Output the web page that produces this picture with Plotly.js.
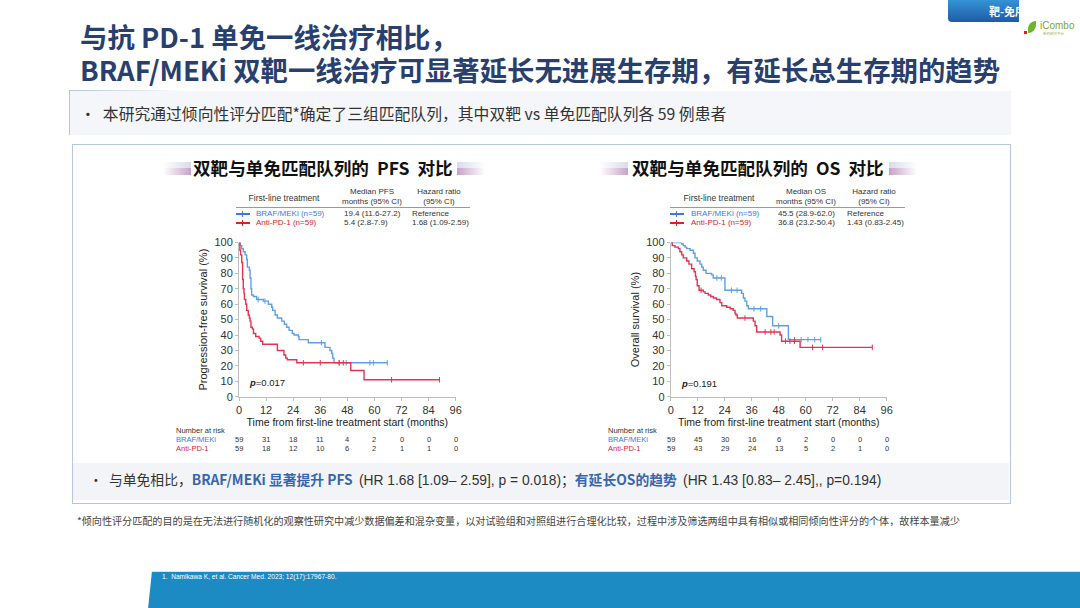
<!DOCTYPE html>
<html><head><meta charset="utf-8">
<script src="https://cdn.plot.ly/plotly-3.0.1.min.js"></script>
<style>
html,body{margin:0;padding:0;background:#fff;}
#page{position:relative;width:1080px;height:608px;overflow:hidden;background:#fff;font-family:"Noto Sans CJK SC","Liberation Sans",sans-serif;}
.abs{position:absolute;white-space:nowrap;}
.t{position:absolute;white-space:nowrap;line-height:1;transform:translateY(-50%);}
.c{transform:translate(-50%,-50%);}
.lat{font-family:"Liberation Sans",Arial,sans-serif;}
#plot{position:absolute;left:0;top:0;width:1080px;height:608px;z-index:2;}
</style></head>
<body><div id="page">
<!-- top right button and logo -->
<div class="abs" style="left:948px;top:0;width:132px;height:22px;background:linear-gradient(#3593d6,#1f5aa6);border-bottom-left-radius:4px;"></div>
<div class="t" style="left:989px;top:11px;color:#fff;font-size:11px;font-weight:bold;">靶-免序</div>
<div class="abs" style="left:1019px;top:0;width:61px;height:22px;background:#fff;"></div>
<div class="abs" style="left:1028px;top:21px;width:8px;height:12px;background:#6cb52d;border-radius:8px 0 8px 0;"></div>
<div class="abs" style="left:1024px;top:31px;width:3px;height:3px;background:#e02020;"></div>
<div class="t lat" style="left:1040px;top:26px;color:#7aa640;font-size:10px;">iCombo</div>
<div class="t" style="left:1043px;top:34px;color:#9ab870;font-size:3.5px;">新药研究平台</div>

<!-- title -->
<div class="abs" style="left:80px;top:20px;color:#29406e;font-size:27.4px;font-weight:bold;line-height:33px;">与抗 PD-1 单免一线治疗相比，<br>BRAF/MEKi 双靶一线治疗可显著延长无进展生存期，有延长总生存期的趋势</div>

<!-- bullet box -->
<div class="abs" style="left:69px;top:91px;width:941px;height:44px;background:#f4f6fa;border-left:1px solid #b7c3da;"></div>
<div class="abs" style="left:69px;top:90px;width:120px;height:1px;background:linear-gradient(90deg,#b7c3da,rgba(183,195,218,0));"></div>
<div class="t" style="left:80px;top:114px;color:#333;font-size:15.8px;">•&nbsp;&nbsp;本研究通过倾向性评分匹配*确定了三组匹配队列，其中双靶 vs 单免匹配队列各 59 例患者</div>

<!-- main box -->
<div class="abs" style="left:72px;top:144px;width:937px;height:358px;border:1px solid #b9c5dc;background:#fff;"></div>
<div class="abs" style="left:73px;top:463px;width:936px;height:37px;background:#f3f4f8;"></div>

<!-- section headers -->
<div class="abs" style="left:163px;top:162px;width:28px;height:6px;background:linear-gradient(90deg,rgba(220,224,236,0),#d8dcea);"></div>
<div class="abs" style="left:163px;top:168px;width:28px;height:7px;background:linear-gradient(90deg,rgba(205,170,205,0),#c8a2c8);"></div>
<div class="abs" style="left:457px;top:162px;width:28px;height:6px;background:linear-gradient(90deg,#d8dcea,rgba(220,224,236,0));"></div>
<div class="abs" style="left:457px;top:168px;width:28px;height:7px;background:linear-gradient(90deg,#c8a2c8,rgba(205,170,205,0));"></div>
<div class="t" style="left:193px;top:168px;color:#111;font-size:17.6px;font-weight:bold;">双靶与单免匹配队列的&nbsp; PFS&nbsp; 对比</div>

<div class="abs" style="left:600px;top:162px;width:28px;height:6px;background:linear-gradient(90deg,rgba(220,224,236,0),#d8dcea);"></div>
<div class="abs" style="left:600px;top:168px;width:28px;height:7px;background:linear-gradient(90deg,rgba(205,170,205,0),#c8a2c8);"></div>
<div class="abs" style="left:889px;top:162px;width:28px;height:6px;background:linear-gradient(90deg,#d8dcea,rgba(220,224,236,0));"></div>
<div class="abs" style="left:889px;top:168px;width:28px;height:7px;background:linear-gradient(90deg,#c8a2c8,rgba(205,170,205,0));"></div>
<div class="t" style="left:632px;top:168px;color:#111;font-size:17.6px;font-weight:bold;">双靶与单免匹配队列的&nbsp; OS&nbsp; 对比</div>

<!-- PFS table -->
<div class="t lat c" style="left:284px;top:198px;color:#333;font-size:8.5px;">First-line treatment</div>
<div class="t lat c" style="left:372px;top:192px;color:#333;font-size:8px;">Median PFS</div>
<div class="t lat c" style="left:372px;top:202px;color:#333;font-size:8px;">months (95% CI)</div>
<div class="t lat c" style="left:439px;top:192px;color:#333;font-size:8px;">Hazard ratio</div>
<div class="t lat c" style="left:439px;top:202px;color:#333;font-size:8px;">(95% CI)</div>
<div class="abs" style="left:236px;top:207px;width:234px;height:1px;background:#9a9a9a;"></div>
<div class="abs" style="left:236px;top:213px;width:14px;height:2px;background:#3b7be0;"></div>
<div class="abs" style="left:242px;top:211px;width:1px;height:6px;background:#3b7be0;"></div>
<div class="abs" style="left:236px;top:222px;width:14px;height:2px;background:#d8232e;"></div>
<div class="abs" style="left:242px;top:220px;width:1px;height:6px;background:#d8232e;"></div>
<div class="t lat" style="left:256px;top:214px;color:#3b7be0;font-size:8px;">BRAF/MEKi (n=59)</div>
<div class="t lat" style="left:256px;top:223px;color:#d8232e;font-size:8px;">Anti-PD-1 (n=59)</div>
<div class="t lat" style="left:344px;top:214px;color:#333;font-size:8px;">19.4 (11.6-27.2)</div>
<div class="t lat" style="left:344px;top:223px;color:#333;font-size:8px;">5.4 (2.8-7.9)</div>
<div class="t lat" style="left:412px;top:214px;color:#333;font-size:8px;">Reference</div>
<div class="t lat" style="left:412px;top:223px;color:#333;font-size:8px;">1.68 (1.09-2.59)</div>

<!-- OS table -->
<div class="t lat c" style="left:719px;top:198px;color:#333;font-size:8.5px;">First-line treatment</div>
<div class="t lat c" style="left:806px;top:192px;color:#333;font-size:8px;">Median OS</div>
<div class="t lat c" style="left:806px;top:202px;color:#333;font-size:8px;">months (95% CI)</div>
<div class="t lat c" style="left:874px;top:192px;color:#333;font-size:8px;">Hazard ratio</div>
<div class="t lat c" style="left:874px;top:202px;color:#333;font-size:8px;">(95% CI)</div>
<div class="abs" style="left:670px;top:207px;width:235px;height:1px;background:#9a9a9a;"></div>
<div class="abs" style="left:670px;top:213px;width:14px;height:2px;background:#3b7be0;"></div>
<div class="abs" style="left:676px;top:211px;width:1px;height:6px;background:#3b7be0;"></div>
<div class="abs" style="left:670px;top:222px;width:14px;height:2px;background:#d8232e;"></div>
<div class="abs" style="left:676px;top:220px;width:1px;height:6px;background:#d8232e;"></div>
<div class="t lat" style="left:691px;top:214px;color:#3b7be0;font-size:8px;">BRAF/MEKi (n=59)</div>
<div class="t lat" style="left:691px;top:223px;color:#d8232e;font-size:8px;">Anti-PD-1 (n=59)</div>
<div class="t lat" style="left:778px;top:214px;color:#333;font-size:8px;">45.5 (28.9-62.0)</div>
<div class="t lat" style="left:778px;top:223px;color:#333;font-size:8px;">36.8 (23.2-50.4)</div>
<div class="t lat" style="left:847px;top:214px;color:#333;font-size:8px;">Reference</div>
<div class="t lat" style="left:847px;top:223px;color:#333;font-size:8px;">1.43 (0.83-2.45)</div>

<!-- bottom bullet -->
<div class="t" style="left:89px;top:480px;color:#333;font-size:13.8px;">•&nbsp; 与单免相比，<span style="color:#3866ad;font-weight:bold;">BRAF/MEKi 显著提升 PFS</span>&nbsp;&nbsp;<span class="lat">(HR 1.68 [1.09– 2.59], p = 0.018)</span>；<span style="color:#3866ad;font-weight:bold;">有延长OS的趋势</span>&nbsp;&nbsp;<span class="lat">(HR 1.43 [0.83– 2.45],, p=0.194)</span></div>

<!-- footnote -->
<div class="t" style="left:77px;top:521px;color:#444;font-size:10.1px;">*倾向性评分匹配的目的是在无法进行随机化的观察性研究中减少数据偏差和混杂变量，以对试验组和对照组进行合理化比较，过程中涉及筛选两组中具有相似或相同倾向性评分的个体，故样本量减少</div>

<!-- bottom band -->
<div class="abs" style="left:148px;top:571px;width:932px;height:37px;background:#1c8ac3;clip-path:polygon(4px 0,100% 0,100% 100%,0 100%);border-top:1px solid #cfe3f0;"></div>
<div class="t lat" style="left:162px;top:577px;color:#fff;font-size:6.6px;">1.&nbsp;&nbsp;Namikawa K, et al. Cancer Med. 2023; 12(17):17967-80.</div>

<div id="plot"></div>
</div>
<script>
// ---- data ----
const monthTicks = [0, 12, 24, 36, 48, 60, 72, 84, 96];
const survTicks = [0, 10, 20, 30, 40, 50, 60, 70, 80, 90, 100];

// PFS, BRAF/MEKi
const pfsBrafT = [0, 0.5, 1.2, 1.9, 2.7, 3.4, 3.7, 4.6, 4.9, 5.3, 5.6, 6.4, 7.8, 10.8, 13.0, 14.5, 14.9, 16.0, 17.0, 18.9, 20.1, 21.1, 22.2, 23.6, 24.4, 26.3, 26.6, 30.7, 38.1, 40.3, 41.1, 41.5, 42.1, 65.7];
const pfsBrafS = [100, 98, 96, 94, 92, 89, 84, 82, 77, 70, 66, 65, 63, 62, 60, 58, 56, 53, 51, 49, 47, 45, 43, 41, 40, 39, 37, 35, 32, 30, 28, 25, 22, 22];
const pfsBrafCensT = [8.5, 11.5, 36.5, 44.5, 47.5, 58.0, 59.5, 65.7];
const pfsBrafCensS = [63, 62, 35, 22, 22, 22, 22, 22];
// PFS, Anti-PD-1
const pfsPdT = [0, 0.4, 0.7, 1.2, 1.6, 1.9, 2.2, 2.4, 3.0, 3.4, 4.1, 4.6, 4.9, 5.3, 5.9, 6.4, 7.4, 8.9, 9.6, 10.5, 17.0, 19.9, 20.7, 21.4, 25.6, 49.5, 55.4, 88.8];
const pfsPdS = [100, 95, 92, 87, 76, 70, 67, 63, 60, 56, 53, 51, 49, 45, 44, 41, 39, 38, 36, 34, 30, 27, 25, 24, 22, 17, 11, 11];
const pfsPdCensT = [28.5, 36.0, 44.3, 46.2, 67.6, 88.8];
const pfsPdCensS = [22, 22, 22, 22, 11, 11];

// OS, BRAF/MEKi
const osBrafT = [0, 4.9, 5.6, 6.4, 7.1, 8.6, 10.1, 10.8, 11.8, 13.0, 13.8, 14.5, 15.7, 18.2, 18.9, 24.1, 31.5, 32.3, 33.0, 33.8, 34.5, 42.7, 45.3, 52.3, 66.7];
const osBrafS = [100, 99, 98, 97, 96, 95, 93, 90, 88, 86, 84, 82, 80, 79, 77, 69, 67, 64, 62, 59, 57, 52, 46, 37, 37];
const osBrafCensT = [20.5, 22.5, 27.0, 29.5, 37.0, 40.0, 48.0, 55.0, 58.0, 61.0, 64.0, 66.7];
const osBrafCensS = [77, 77, 69, 69, 57, 57, 46, 37, 37, 37, 37, 37];
// OS, Anti-PD-1
const osPdT = [0, 0.7, 1.9, 3.4, 4.1, 4.9, 5.6, 7.1, 8.1, 9.3, 10.4, 11.0, 11.3, 11.8, 12.6, 14.5, 15.3, 16.7, 17.8, 19.0, 20.4, 21.9, 22.7, 24.9, 26.4, 27.8, 28.6, 29.0, 29.6, 36.7, 37.5, 38.2, 48.6, 49.3, 57.5, 89.6];
const osPdS = [100, 98, 97, 96, 94, 92, 90, 88, 86, 83, 81, 78, 76, 72, 69, 68, 67, 66, 65, 64, 63, 61, 59, 58, 57, 56, 54, 53, 51, 49, 46, 42, 40, 36, 32, 32];
const osPdCensT = [13.5, 33.0, 42.0, 44.5, 46.0, 51.0, 53.0, 55.0, 63.0, 67.5, 89.6];
const osPdCensS = [69, 51, 42, 42, 42, 36, 36, 36, 32, 32, 32];

// numbers at risk
const riskTimes = [0, 12, 24, 36, 48, 60, 72, 84, 96];
const pfsRiskBraf = [59, 31, 18, 11, 4, 2, 0, 0, 0];
const pfsRiskPd = [59, 18, 12, 10, 6, 2, 1, 1, 0];
const osRiskBraf = [59, 45, 30, 16, 6, 2, 0, 0, 0];
const osRiskPd = [59, 43, 29, 24, 13, 5, 2, 1, 0];

const pfsP = '=0.017';
const osP = '=0.191';

// ---- drawing ----
const BLUE = '#5f9fe6', RED = '#e33452';
function km(t, s, color, xa, ya) {
  return {x: t, y: s, xaxis: xa, yaxis: ya, type: 'scatter', mode: 'lines',
    line: {shape: 'hv', color: color, width: 1.4}, cliponaxis: false, hoverinfo: 'skip'};
}
function cens(t, s, color, xa, ya) {
  return {x: t, y: s, xaxis: xa, yaxis: ya, type: 'scatter', mode: 'markers',
    marker: {symbol: 'line-ns-open', size: 4, color: color, line: {color: color, width: 1}},
    cliponaxis: false, hoverinfo: 'skip'};
}
const traces = [
  km(pfsBrafT, pfsBrafS, BLUE, 'x', 'y'), cens(pfsBrafCensT, pfsBrafCensS, BLUE, 'x', 'y'),
  km(pfsPdT, pfsPdS, RED, 'x', 'y'), cens(pfsPdCensT, pfsPdCensS, RED, 'x', 'y'),
  km(osBrafT, osBrafS, BLUE, 'x2', 'y2'), cens(osBrafCensT, osBrafCensS, BLUE, 'x2', 'y2'),
  km(osPdT, osPdS, RED, 'x2', 'y2'), cens(osPdCensT, osPdCensS, RED, 'x2', 'y2')
];
const tickFont = {family: 'Liberation Sans, Arial, sans-serif', size: 11, color: '#333'};
function xax(domain, anchor) {
  return {domain: domain, anchor: anchor, range: [0, 96], tickvals: monthTicks, showline: true,
    linecolor: '#bdbdbd', linewidth: 1, showgrid: false, zeroline: false, ticks: 'outside',
    ticklen: 3, tickcolor: '#bdbdbd', tickfont: tickFont, fixedrange: true,
    title: {text: 'Time from first-line treatment start (months)', standoff: 3,
      font: {family: 'Liberation Sans, Arial, sans-serif', size: 10.5, color: '#222'}}};
}
function yax(domain, anchor, title) {
  return {domain: domain, anchor: anchor, range: [0, 100], tickvals: survTicks, showline: true,
    linecolor: '#bdbdbd', linewidth: 1, showgrid: false, zeroline: false, ticks: 'outside',
    ticklen: 3, tickcolor: '#bdbdbd', tickfont: tickFont, fixedrange: true,
    title: {text: title, standoff: 4, font: {family: 'Liberation Sans, Arial, sans-serif', size: 11, color: '#222'}}};
}
const ann = [];
const riskFont = {family: 'Liberation Sans, Arial, sans-serif', size: 7.5, color: '#333'};
function riskRows(xref, braf, pd, labelX) {
  const yB = 1 - 439 / 608, yP = 1 - 448 / 608, yN = 1 - 430 / 608;
  ann.push({xref: 'paper', yref: 'paper', x: labelX / 1080, y: yN, text: 'Number at risk', showarrow: false, xanchor: 'left', yanchor: 'middle', font: riskFont});
  ann.push({xref: 'paper', yref: 'paper', x: labelX / 1080, y: yB, text: 'BRAF/MEKi', showarrow: false, xanchor: 'left', yanchor: 'middle', font: Object.assign({}, riskFont, {color: '#3b7be0'})});
  ann.push({xref: 'paper', yref: 'paper', x: labelX / 1080, y: yP, text: 'Anti-PD-1', showarrow: false, xanchor: 'left', yanchor: 'middle', font: Object.assign({}, riskFont, {color: '#d8232e'})});
  riskTimes.forEach((t, i) => {
    ann.push({xref: xref, yref: 'paper', x: t, y: yB, text: String(braf[i]), showarrow: false, xanchor: 'center', yanchor: 'middle', font: riskFont});
    ann.push({xref: xref, yref: 'paper', x: t, y: yP, text: String(pd[i]), showarrow: false, xanchor: 'center', yanchor: 'middle', font: riskFont});
  });
}
riskRows('x', pfsRiskBraf, pfsRiskPd, 174);
riskRows('x2', osRiskBraf, osRiskPd, 606);
const pFont = {family: 'Liberation Sans, Arial, sans-serif', size: 9.5, color: '#222'};
ann.push({xref: 'x', yref: 'y', x: 3.4, y: 9.5, text: '<b><i>p</i></b>' + pfsP, showarrow: false, xanchor: 'left', yanchor: 'middle', font: pFont});
ann.push({xref: 'x2', yref: 'y2', x: 3.6, y: 8.3, text: '<b><i>p</i></b>' + osP, showarrow: false, xanchor: 'left', yanchor: 'middle', font: pFont});

const yDom = [1 - 396.7 / 608, 1 - 242.5 / 608];
const layout = {
  width: 1080, height: 608, margin: {l: 0, r: 0, t: 0, b: 0},
  paper_bgcolor: 'rgba(0,0,0,0)', plot_bgcolor: 'rgba(0,0,0,0)', showlegend: false,
  xaxis: xax([239 / 1080, 455.7 / 1080], 'y'),
  yaxis: yax(yDom, 'x', 'Progression-free survival (%)'),
  xaxis2: xax([670.7 / 1080, 886.7 / 1080], 'y2'),
  yaxis2: yax(yDom, 'x2', 'Overall survival (%)'),
  annotations: ann
};
Plotly.newPlot('plot', traces, layout, {staticPlot: true, displayModeBar: false});
</script>
</body></html>
